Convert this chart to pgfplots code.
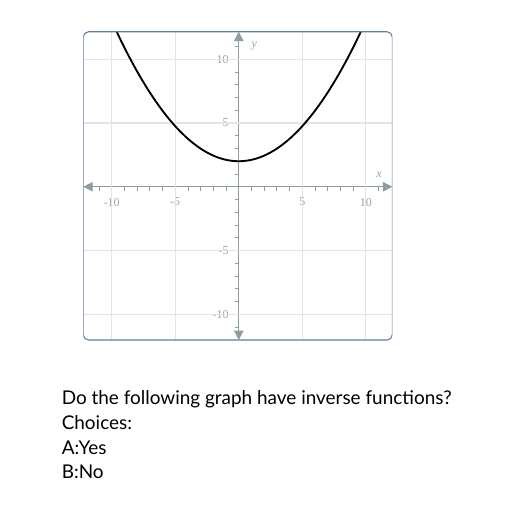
\documentclass[border=0pt]{standalone}
\usepackage{fontspec}
\setmainfont{Lato}
\newfontfamily\tickfont{Liberation Serif}
\usepackage{pgfplots}
\pgfplotsset{compat=1.18}
\usetikzlibrary{arrows.meta}
\definecolor{axgray}{RGB}{140,158,160}
\definecolor{gridgray}{RGB}{226,229,229}
\definecolor{labgray}{RGB}{150,165,165}
\definecolor{framecol}{RGB}{95,125,165}
\begin{document}
\begin{tikzpicture}
\path[use as bounding box] (0,0) rectangle (384pt,384pt);
\begin{axis}[
  at={(62.475pt,129pt)}, anchor=south west,
  scale only axis, width=231.75pt, height=231.2pt,
  xmin=-12.24, xmax=12.09, ymin=-12.02, ymax=12.16,
  axis lines=middle,
  axis line style={axgray, line width=0.9pt, {Triangle[length=7pt,width=7pt]}-{Triangle[length=7pt,width=7pt]}},
  xtick={-11,...,11}, ytick={-11,...,11},
  xticklabels={,-10,,,,,-5,,,,,,,,,,5,,,,,10,},
  yticklabels={,-10,,,,,-5,,,,,,,,,,5,,,,,10,},
  tick align=outside,
  major tick length=3pt,
  tick style={axgray, line width=0.6pt},
  xticklabel style={font=\tickfont\fontsize{9}{10}\selectfont, text=labgray, yshift=-2pt},
  yticklabel style={font=\tickfont\fontsize{9}{10}\selectfont, text=labgray, xshift=-1pt},
  clip=true,
]
\pgfplotsinvokeforeach{-10,-5,5,10}{
  \draw[gridgray, line width=0.8pt] (axis cs:#1,-12.02) -- (axis cs:#1,12.16);
  \draw[gridgray, line width=0.8pt] (axis cs:-12.24,#1) -- (axis cs:12.09,#1);
}
\addplot[black, line width=1.4pt, smooth] coordinates {
(-10,13) (-9.5,11.93) (-9,10.91) (-8.5,9.95) (-8,9.04) (-7.5,8.19) (-7,7.39)
(-6.5,6.65) (-6,5.96) (-5.5,5.33) (-5,4.75) (-4.5,4.23) (-4,3.76) (-3.5,3.35)
(-3,2.99) (-2.5,2.69) (-2,2.44) (-1.5,2.25) (-1,2.11) (-0.5,2.03) (0,2)
(0.5,2.03) (1,2.11) (1.5,2.25) (2,2.44) (2.5,2.69) (3,2.99) (3.5,3.35)
(4,3.76) (4.5,4.23) (5,4.75) (5.5,5.33) (6,5.96) (6.5,6.65) (7,7.39)
(7.5,8.19) (8,9.04) (8.5,9.95) (9,10.91) (9.5,11.93) (10,13)
};
\node[text=labgray, font=\tickfont\itshape\fontsize{9}{10}\selectfont] at (axis cs:11.05,0.93) {x};
\node[text=labgray, font=\tickfont\itshape\fontsize{9}{10}\selectfont] at (axis cs:1.23,11.0) {y};
\draw[framecol, line width=0.8pt, rounded corners=4pt] (rel axis cs:0,0) rectangle (rel axis cs:1,1);
\end{axis}
\begin{scope}[every node/.style={anchor=base west, inner sep=0pt, font=\fontsize{14.2}{16}\selectfont}]
\node at (46.125pt,81pt) {Do the following graph have inverse functions?};
\node at (46.125pt,62.25pt) {Choices:};
\node at (46.125pt,43.5pt) {A:Yes};
\node at (46.125pt,24.75pt) {B:No};
\end{scope}
\end{tikzpicture}
\end{document}
